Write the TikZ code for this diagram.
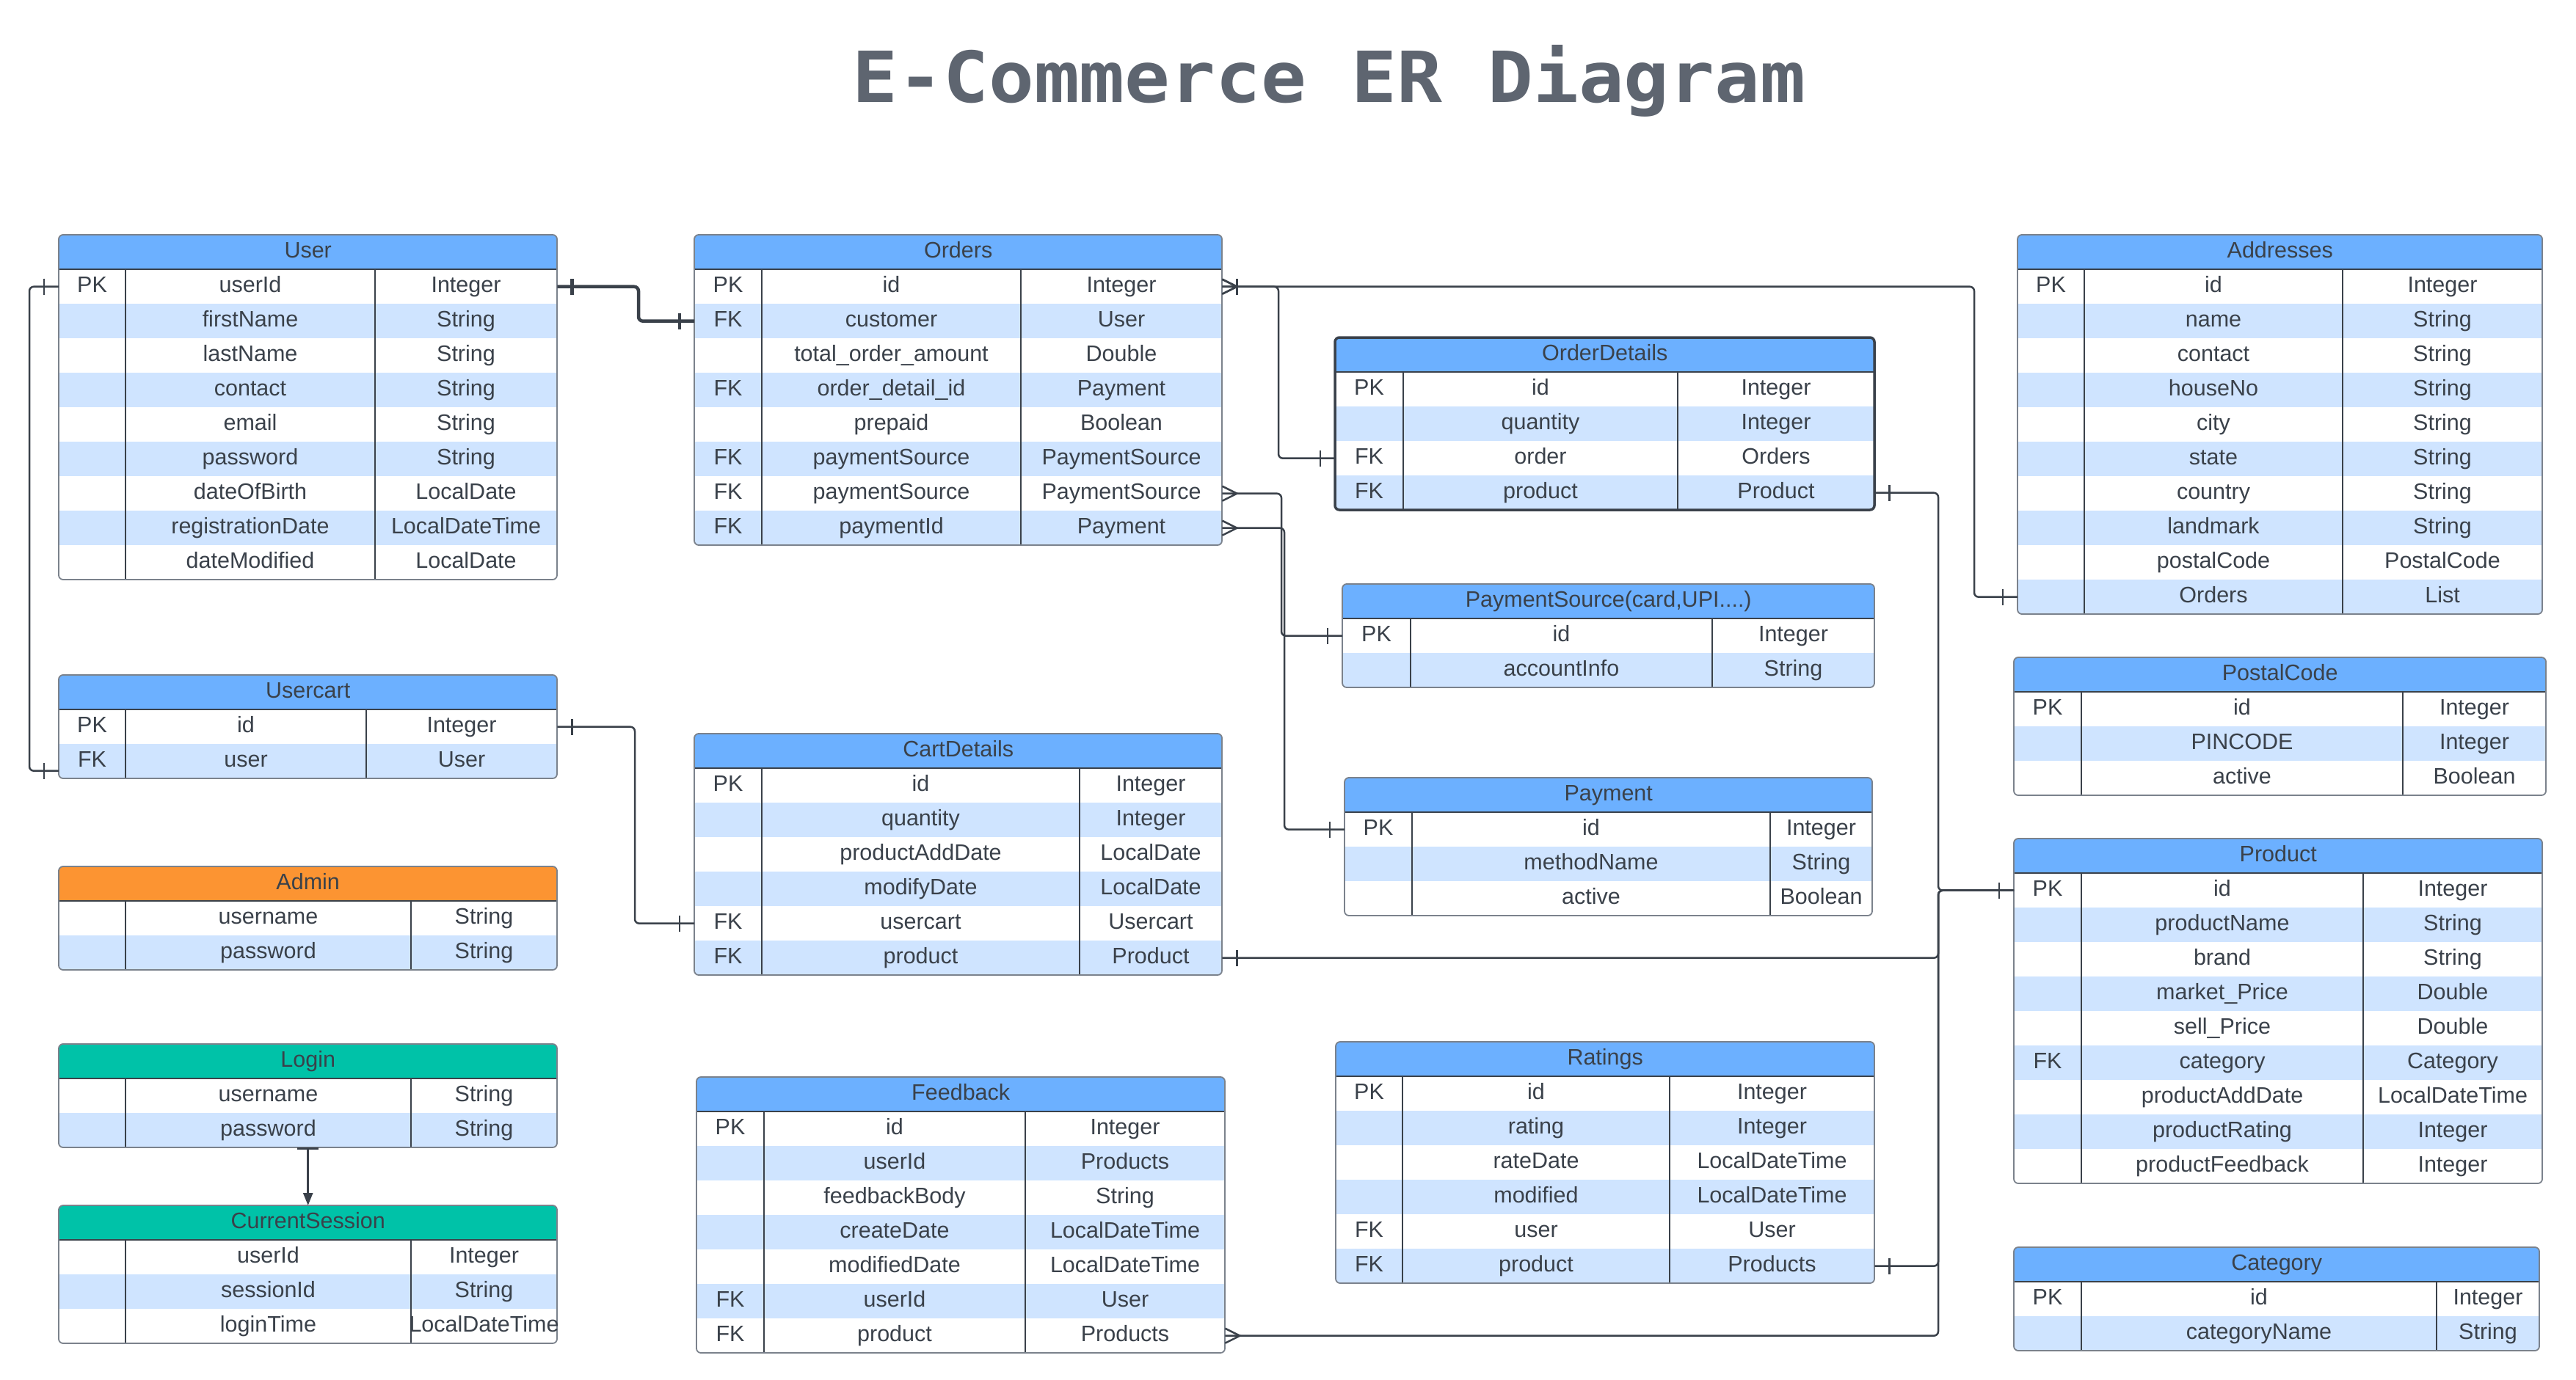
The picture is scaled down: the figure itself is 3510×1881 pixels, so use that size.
\documentclass[tikz,border=0pt]{standalone}
\usepackage{fontspec}
\setmainfont{Liberation Sans}
\newfontfamily\titlefont{DejaVu Sans Mono}[FakeStretch=1.07]
\usetikzlibrary{arrows.meta,decorations.markings}

\definecolor{headBlue}{HTML}{6CB0FF}
\definecolor{rowBlue}{HTML}{CFE4FF}
\definecolor{headOrange}{HTML}{FC9432}
\definecolor{headTeal}{HTML}{00C2A8}
\definecolor{inkGrey}{HTML}{3A414A}
\definecolor{frameGrey}{HTML}{7B828C}
\definecolor{titleGrey}{HTML}{5E6570}

\newcommand{\cellfont}{\fontsize{30.5pt}{36pt}\selectfont}

% #1 name, #2 left, #3 top, #4 key|name line, #5 name|type line, #6 right,
% #7 title, #8 header colour, #9 rows key/name/type
\newcommand{\ertable}[9]{%
  \foreach \keyf/\namef/\typef [count=\i] in {#9} {\xdef\errows{\i}}
  \begin{scope}
    \clip[rounded corners=6pt] (#2,#3) rectangle (#6,{#3+47*(\errows+1)});
    \node[headCell,fill=#8,minimum width={#6-#2}] (#1-head) at (#2,#3) {#7};
    \foreach \keyf/\namef/\typef [count=\i] in {#9} {
      \ifodd\i\def\rowfill{white}\else\def\rowfill{rowBlue}\fi
      \node[rowCell,fill=\rowfill,minimum width={#6-#2}] (#1-\i) at (#2,{#3+47*\i}) {};
    }
  \end{scope}
  \draw[colLine] (#4,{#3+47}) -- (#4,{#3+47*(\errows+1)});
  \draw[colLine] (#5,{#3+47}) -- (#5,{#3+47*(\errows+1)});
  \draw[colLine] (#2,{#3+47}) -- (#6,{#3+47});
  \draw[tableFrame] (#2,#3) rectangle (#6,{#3+47*(\errows+1)});
  \foreach \keyf/\namef/\typef [count=\i] in {#9} {
    \node[cellText] (#1-k\i) at ({(#2+#4)/2},{#3+47*\i+23.5}) {\keyf};
    \node[cellText] (#1-n\i) at ({(#4+#5)/2},{#3+47*\i+23.5}) {\namef};
    \node[cellText] (#1-t\i) at ({(#5+#6)/2},{#3+47*\i+23.5}) {\typef};
  }
}

\begin{document}
\begin{tikzpicture}
  [x=1pt,y=-1pt,
   headCell/.style={anchor=north west,minimum height=47pt,inner sep=0pt,
     font=\cellfont,text=inkGrey,text height=21.5pt,text depth=6.5pt},
   rowCell/.style={anchor=north west,minimum height=47pt,inner sep=0pt},
   cellText/.style={font=\cellfont,text=inkGrey,inner sep=0pt,
     text height=21.5pt,text depth=6.5pt},
   colLine/.style={draw=inkGrey,line width=1.5pt},
   tableFrame/.style={draw=frameGrey,line width=1.8pt,rounded corners=6pt},
   connector/.style={draw=inkGrey,line width=2.5pt,rounded corners=6pt},
   markLine/.style={draw=inkGrey,line cap=butt,rounded corners=0pt},
   oneStart/.style={postaction={decorate,decoration={markings,
     mark=at position 20pt with {\draw[markLine] (0pt,-11pt) -- (0pt,11pt);}}}},
   oneEnd/.style={postaction={decorate,decoration={markings,
     mark=at position -20pt with {\draw[markLine] (0pt,-11pt) -- (0pt,11pt);}}}},
   manyStart/.style={postaction={decorate,decoration={markings,
     mark=at position 20pt with {\draw[markLine] (-20pt,-10pt) -- (0pt,0pt) -- (-20pt,10pt);}}}}]

  \fill[white] (0,0) rectangle (3510,1881);
  \useasboundingbox (0,0) rectangle (3510,1881);

  \node[font=\titlefont\fontsize{96pt}{110pt}\selectfont\bfseries,text=titleGrey,anchor=base]
    (title) at (1811,140) {E-Commerce ER Diagram};

  % left column
  \ertable{user}{80}{320}{171}{511}{759}{User}{headBlue}{
    PK/userId/Integer, /firstName/String, /lastName/String, /contact/String,
    /email/String, /password/String, /dateOfBirth/LocalDate,
    /registrationDate/LocalDateTime, /dateModified/LocalDate}
  \ertable{usercart}{80}{920}{171}{499}{759}{Usercart}{headBlue}{
    PK/id/Integer, FK/user/User}
  \ertable{admin}{80}{1181}{171}{560}{759}{Admin}{headOrange}{
    /username/String, /password/String}
  \ertable{login}{80}{1423}{171}{560}{759}{Login}{headTeal}{
    /username/String, /password/String}
  \ertable{cursession}{80}{1643}{171}{560}{759}{CurrentSession}{headTeal}{
    /userId/Integer, /sessionId/String, /loginTime/LocalDateTime}

  % middle column
  \ertable{orders}{946}{320}{1038}{1391}{1665}{Orders}{headBlue}{
    PK/id/Integer, FK/customer/User, /total\_order\_amount/Double,
    FK/order\_detail\_id/Payment, /prepaid/Boolean,
    FK/paymentSource/PaymentSource, FK/paymentSource/PaymentSource,
    FK/paymentId/Payment}
  \ertable{cartdetails}{946}{1000}{1038}{1471}{1665}{CartDetails}{headBlue}{
    PK/id/Integer, /quantity/Integer, /productAddDate/LocalDate,
    /modifyDate/LocalDate, FK/usercart/Usercart, FK/product/Product}
  \ertable{feedback}{949}{1468}{1041}{1397}{1669}{Feedback}{headBlue}{
    PK/id/Integer, /userId/Products, /feedbackBody/String,
    /createDate/LocalDateTime, /modifiedDate/LocalDateTime,
    FK/userId/User, FK/product/Products}

  \begin{scope}[colLine/.style={draw=inkGrey,line width=2.5pt},
      tableFrame/.style={draw=inkGrey,line width=3.5pt,rounded corners=6pt}]
    \ertable{orderdetails}{1819}{460}{1912}{2286}{2554}{OrderDetails}{headBlue}{
      PK/id/Integer, /quantity/Integer, FK/order/Orders, FK/product/Product}
  \end{scope}
  \ertable{paysource}{1829}{796}{1922}{2333}{2554}{PaymentSource(card,UPI....)}{headBlue}{
    PK/id/Integer, /accountInfo/String}
  \ertable{payment}{1832}{1060}{1924}{2412}{2551}{Payment}{headBlue}{
    PK/id/Integer, /methodName/String, /active/Boolean}
  \ertable{ratings}{1820}{1420}{1911}{2275}{2554}{Ratings}{headBlue}{
    PK/id/Integer, /rating/Integer, /rateDate/LocalDateTime,
    /modified/LocalDateTime, FK/user/User, FK/product/Products}

  % right column
  \ertable{addresses}{2749}{320}{2840}{3192}{3464}{Addresses}{headBlue}{
    PK/id/Integer, /name/String, /contact/String, /houseNo/String,
    /city/String, /state/String, /country/String, /landmark/String,
    /postalCode/PostalCode, /Orders/List}
  \ertable{postalcode}{2744}{896}{2836}{3274}{3469}{PostalCode}{headBlue}{
    PK/id/Integer, /PINCODE/Integer, /active/Boolean}
  \ertable{product}{2744}{1143}{2836}{3220}{3464}{Product}{headBlue}{
    PK/id/Integer, /productName/String, /brand/String, /market\_Price/Double,
    /sell\_Price/Double, FK/category/Category,
    /productAddDate/LocalDateTime, /productRating/Integer,
    /productFeedback/Integer}
  \ertable{category}{2744}{1700}{2836}{3320}{3460}{Category}{headBlue}{
    PK/id/Integer, /categoryName/String}

  % bends of the connectors
  \coordinate (userBend) at (870,0);
  \coordinate (userLeftBend) at (40,0);
  \coordinate (cartBend) at (865,0);
  \coordinate (addrBend) at (2690,0);
  \coordinate (detailBend) at (1742,0);
  \coordinate (sourceBend) at (1746,0);
  \coordinate (payBend) at (1750,0);
  \coordinate (prodTrunk) at (2641,0);

  \draw[connector,line width=4.5pt,oneStart,oneEnd]
    (user-1.east) -- (user-1.east -| userBend) |- (orders-2.west);
  \draw[connector,oneStart,oneEnd]
    (user-1.west) -- (user-1.west -| userLeftBend) |- ([yshift=-13pt]usercart-2.west);
  \draw[connector,oneStart,oneEnd]
    (usercart-1.east) -- (usercart-1.east -| cartBend) |- (cartdetails-5.west);
  \draw[connector,manyStart,oneStart,oneEnd]
    (orders-1.east) -- (orders-1.east -| addrBend) |- (addresses-10.west);
  \draw[connector,manyStart,oneStart,oneEnd]
    (orders-1.east) -- (orders-1.east -| detailBend) |- (orderdetails-3.west);
  \draw[connector,manyStart,oneEnd]
    (orders-7.east) -- (orders-7.east -| sourceBend) |- (paysource-1.west);
  \draw[connector,manyStart,oneEnd]
    (orders-8.east) -- (orders-8.east -| payBend) |- (payment-1.west);
  \foreach \src in {orderdetails-4, cartdetails-6, ratings-6}
    \draw[connector,oneStart,oneEnd]
      (\src.east) -- (\src.east -| prodTrunk) |- (product-1.west);
  \draw[connector,manyStart,oneEnd]
    (feedback-7.east) -- (feedback-7.east -| prodTrunk) |- (product-1.west);

  \draw[connector,rounded corners=0pt,{Bar[width=29pt]}-{Triangle[length=17pt,width=13pt]}]
    (login-2.south) -- (cursession-head.north);
\end{tikzpicture}
\end{document}
